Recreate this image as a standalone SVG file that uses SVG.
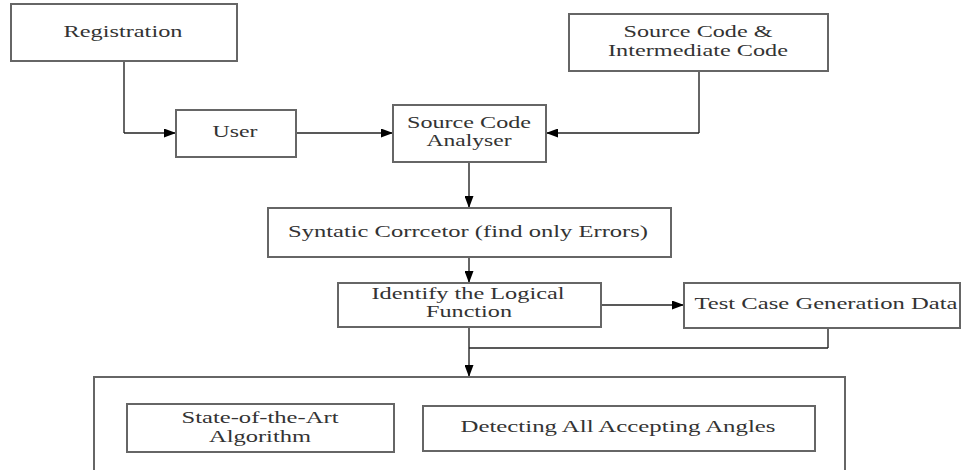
<svg xmlns="http://www.w3.org/2000/svg" width="963" height="470" viewBox="0 0 963 470">
<defs>
<marker id="arr" viewBox="0 0 12 9" refX="12" refY="4.5" markerWidth="12" markerHeight="9" markerUnits="userSpaceOnUse" orient="auto">
<path d="M0,0 L12,4.5 L0,9 z" fill="#000"/>
</marker>
<style>
.box{fill:#fff;stroke:#666;stroke-width:2}
.t{font-family:Tinos,'Liberation Serif','Noto Serif','DejaVu Serif',FreeSerif,Times,'Times New Roman',serif;font-size:17px;fill:#333;text-anchor:middle}
.s{font-size:16px}
.c{fill:none;stroke:#222;stroke-width:1.4}
.g{fill:none;stroke:#666;stroke-width:2}
</style>
</defs>
<rect width="963" height="470" fill="#fff"/>
<g id="connectors">
<polyline class="g" points="124,61 124,133"/>
<polyline class="c" points="124,133 176,133" marker-end="url(#arr)"/>
<polyline class="c" points="296,133 393,133" marker-end="url(#arr)"/>
<polyline class="g" points="699,71 699,133"/>
<polyline class="c" points="699,133 546,133" marker-end="url(#arr)"/>
<polyline class="g" points="469,162 469,197"/>
<polyline class="c" points="469,196 469,208" marker-end="url(#arr)"/>
<polyline class="g" points="469,257 469,272"/>
<polyline class="c" points="469,271 469,283" marker-end="url(#arr)"/>
<polyline class="c" points="601,305 684,305" marker-end="url(#arr)"/>
<polyline class="g" points="469,327 469,366"/>
<polyline class="c" points="469,365 469,377" marker-end="url(#arr)"/>
<polyline class="g" points="828,328 828,348"/>
<polyline class="c" points="828,348 469,348"/>
</g>
<g id="registration">
<rect class="box" x="11" y="4" width="226" height="57"/>
<text class="t" x="123" y="37" textLength="119" lengthAdjust="spacingAndGlyphs">Registration</text>
</g>
<g id="user">
<rect class="box" x="176" y="110" width="120" height="47"/>
<text class="t" x="235" y="137" textLength="45" lengthAdjust="spacingAndGlyphs">User</text>
</g>
<g id="source-intermediate">
<rect class="box" x="569" y="14" width="259" height="57"/>
<text class="t" x="698" y="37" textLength="149" lengthAdjust="spacingAndGlyphs">Source Code &amp;</text>
<text class="t" x="698" y="56" textLength="180" lengthAdjust="spacingAndGlyphs">Intermediate Code</text>
</g>
<g id="analyser">
<rect class="box" x="393" y="105" width="153" height="57"/>
<text class="t" x="469" y="128" textLength="124" lengthAdjust="spacingAndGlyphs">Source Code</text>
<text class="t" x="469" y="146" textLength="85" lengthAdjust="spacingAndGlyphs">Analyser</text>
</g>
<g id="syntatic">
<rect class="box" x="268" y="208" width="403" height="49"/>
<text class="t" x="468" y="237" textLength="360" lengthAdjust="spacingAndGlyphs">Syntatic Corrcetor (find only Errors)</text>
</g>
<g id="identify">
<rect class="box" x="338" y="283" width="263" height="44"/>
<text class="t" x="468" y="299" textLength="193" lengthAdjust="spacingAndGlyphs">Identify the Logical</text>
<text class="t" x="469" y="317" textLength="86" lengthAdjust="spacingAndGlyphs">Function</text>
</g>
<g id="testcase">
<rect class="box" x="684" y="283" width="276" height="45"/>
<text class="t" x="826" y="309" textLength="263" lengthAdjust="spacingAndGlyphs">Test Case Generation Data</text>
</g>
<g id="container">
<rect class="box" x="94" y="377" width="751" height="100"/>
</g>
<g id="state-of-art">
<rect class="box" x="127" y="404" width="267" height="48"/>
<text class="t s" x="260" y="423" textLength="157" lengthAdjust="spacingAndGlyphs">State-of-the-Art</text>
<text class="t s" x="260" y="442" textLength="102" lengthAdjust="spacingAndGlyphs">Algorithm</text>
</g>
<g id="detecting">
<rect class="box" x="423" y="406" width="392" height="45"/>
<text class="t s" x="618" y="432" textLength="315" lengthAdjust="spacingAndGlyphs">Detecting All Accepting Angles</text>
</g>
</svg>
